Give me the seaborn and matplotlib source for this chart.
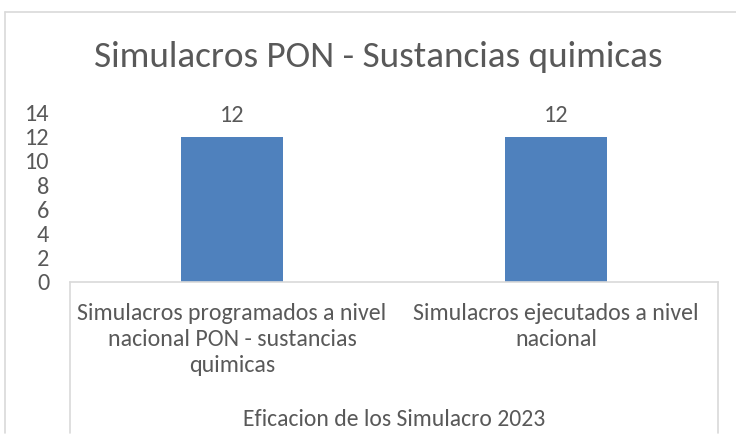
import matplotlib
matplotlib.use("Agg")
import matplotlib.pyplot as plt
from matplotlib.lines import Line2D
import seaborn as sns
import pandas as pd

# Chart content
categories = [
    "Simulacros programados a nivel\nnacional PON - sustancias\nquimicas",
    "Simulacros ejecutados a nivel\nnacional",
]
values = [12, 12]
y_ticks = [0, 2, 4, 6, 8, 10, 12, 14]
title = "Simulacros PON - Sustancias quimicas"
group_label = "Eficacion de los Simulacro 2023"

sns.set_theme(style="white")
plt.rcParams["font.family"] = ["Carlito", "Lato", "DejaVu Sans"]

TEXT = "#595959"
LINE = "#D9D9D9"
BAR = "#4F81BD"

W, H = 736, 438
fig = plt.figure(figsize=(W / 100, H / 100), dpi=100)

# plot area in pixel coordinates
x0, x1 = 70, 718
y_top, y_bot = 112.7, 281.7
ax = fig.add_axes([x0 / W, (H - y_bot) / H, (x1 - x0) / W, (y_bot - y_top) / H])

df = pd.DataFrame({"cat": categories, "val": values})
sns.barplot(data=df, x="cat", y="val", color=BAR, width=0.315,
            saturation=1, ax=ax, edgecolor="none")

ax.set_xlim(-0.5, 1.5)
ax.set_ylim(0, 14)
ax.set_yticks(y_ticks)
ax.set_yticklabels([str(t) for t in y_ticks], color=TEXT, fontsize=17.5)
ax.tick_params(axis="y", length=0, pad=15)
ax.tick_params(axis="x", length=0, pad=15)
ax.set_xticks(range(len(categories)))
ax.set_xticklabels(categories, color=TEXT, fontsize=17.2, linespacing=1.32)
ax.set_xlabel("")
ax.set_ylabel("")

for s in ["top", "right", "left"]:
    ax.spines[s].set_visible(False)
ax.spines["bottom"].set_color(LINE)
ax.spines["bottom"].set_linewidth(1.2)

# value labels above bars
for i, v in enumerate(values):
    ax.annotate(str(v), (i, v), xytext=(0, 8), textcoords="offset points",
                ha="center", va="bottom", color=TEXT, fontsize=17.5)

# category box sides
def fig_line(xs, ys):
    fig.add_artist(Line2D([x / W for x in xs], [(H - y) / H for y in ys],
                          color=LINE, linewidth=1.2))

fig_line([x0, x0], [y_bot, 433])
fig_line([x1, x1], [y_bot, 433])

# chart border (top and left)
fig_line([5, W], [12, 12])
fig_line([5, 5], [12, 433])

fig.text(378 / W, 1 - 57 / H, title, ha="center", va="center",
         color=TEXT, fontsize=26.8)
fig.text(394 / W, 1 - 419 / H, group_label, ha="center", va="center",
         color=TEXT, fontsize=17)

fig.savefig("out.png", dpi=100, facecolor="white")
